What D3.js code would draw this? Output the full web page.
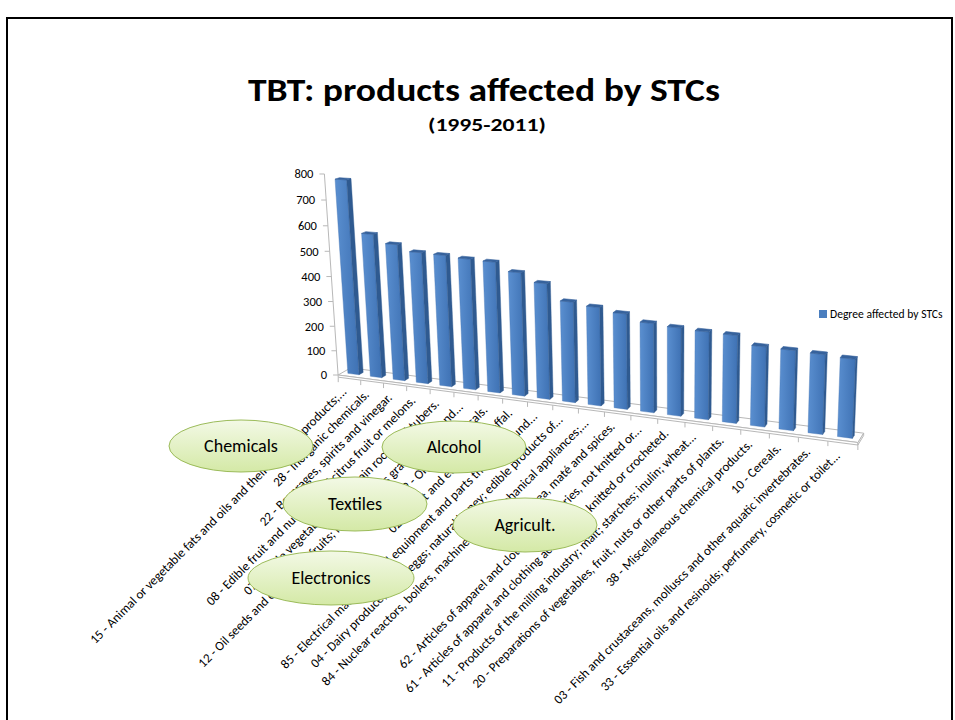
<!DOCTYPE html>
<html><head><meta charset="utf-8">
<script src="https://cdn.jsdelivr.net/npm/d3@7"></script>
<style>html,body{margin:0;padding:0;background:#fff;} svg{display:block;}</style>
</head><body><svg id="chart" width="955" height="720"></svg>
<script>
// ---------- data ----------
const categories = [
  "15 - Animal or vegetable fats and oils and their cleavage products;...",
  "28 - Inorganic chemicals.",
  "22 - Beverages, spirits and vinegar.",
  "08 - Edible fruit and nuts; peel of citrus fruit or melons.",
  "07 - Edible vegetables and certain roots and tubers.",
  "12 - Oil seeds and oleaginous fruits; miscellaneous grains, seeds and...",
  "29 - Organic chemicals.",
  "02 - Meat and edible meat offal.",
  "85 - Electrical machinery and equipment and parts thereof; sound...",
  "04 - Dairy produce; birds' eggs; natural honey; edible products of...",
  "84 - Nuclear reactors, boilers, machinery and mechanical appliances;...",
  "09 - Coffee, tea, maté and spices.",
  "62 - Articles of apparel and clothing accessories, not knitted or...",
  "61 - Articles of apparel and clothing accessories, knitted or crocheted.",
  "11 - Products of the milling industry; malt; starches; inulin; wheat...",
  "20 - Preparations of vegetables, fruit, nuts or other parts of plants.",
  "38 - Miscellaneous chemical products.",
  "10 - Cereals.",
  "03 - Fish and crustaceans, molluscs and other aquatic invertebrates.",
  "33 - Essential oils and resinoids; perfumery, cosmetic or toilet..."
];
const values = [776, 573, 541, 518, 516, 510, 507, 476, 444, 384, 374, 360, 335, 329, 325, 323, 293, 291, 288, 283];
const yTicks = [0, 100, 200, 300, 400, 500, 600, 700, 800];
const seriesName = "Degree affected by STCs";
const titleText = "TBT: products affected by STCs";
const subtitleText = "(1995-2011)";
const groupLabels = ["Chemicals", "Alcohol", "Textiles", "Agricult.", "Electronics"];

// ---------- 3D projection (perspective camera) ----------
const F = 1404, CX = 580, CY = 300;
const RX = [0.9212, 0.0910, -0.3782];
const RY = [-0.01734, -0.9617, -0.2735];
const RZ = [0.3886, -0.2585, 0.8843];
const O = [-9.27, 2.874, 53.8];
function proj(X, Y, Z) {
  const p = [0, 1, 2].map(k => O[k] + X * RX[k] + Y * RY[k] + Z * RZ[k]);
  return [CX + F * p[0] / p[2], CY + F * p[1] / p[2]];
}
const poly = pts => pts.map(p => proj(p[0], p[1], p[2]).join(",")).join(" ");

const FONT = "Carlito, Calibri, Lato, 'Open Sans', sans-serif";
const svg = d3.select("#chart").style("font-family", FONT);
const defs = svg.append("defs");

const nCat = categories.length;
const xBand = d3.scaleBand().domain(categories).range([0, nCat]).paddingInner(0.5).paddingOuter(0.25);
const yVal = d3.scaleLinear().domain([0, 800]).range([0, 7.81]);
const FLOOR_D = 0.9, BZ0 = 0.3, BZ1 = 0.6, FLOOR_T = yVal(9);

const gFront = defs.append("linearGradient").attr("id", "gFront").attr("x1", 0).attr("x2", 1).attr("y1", 0).attr("y2", 0);
gFront.append("stop").attr("offset", 0).attr("stop-color", "#5a8fd0");
gFront.append("stop").attr("offset", 1).attr("stop-color", "#3f72b4");
const gOval = defs.append("linearGradient").attr("id", "gOval").attr("x1", 0).attr("x2", 0).attr("y1", 0).attr("y2", 1);
gOval.append("stop").attr("offset", 0).attr("stop-color", "#f3f9e6");
gOval.append("stop").attr("offset", 1).attr("stop-color", "#d4e9a6");
defs.append("clipPath").attr("id", "frameClip").append("rect").attr("x", 0).attr("y", 0).attr("width", 952).attr("height", 720);

const root = svg.append("g").attr("clip-path", "url(#frameClip)");

// floor
const gridCol = "#b8b8b8";
root.append("polygon").attr("points", poly([[0,0,0],[nCat,0,0],[nCat,0,FLOOR_D],[0,0,FLOOR_D]]))
  .attr("fill", "#ffffff").attr("stroke", gridCol).attr("stroke-width", 1);
root.append("polygon").attr("points", poly([[0,0,0],[nCat,0,0],[nCat,-FLOOR_T,0],[0,-FLOOR_T,0]]))
  .attr("fill", "#ffffff").attr("stroke", gridCol).attr("stroke-width", 1);
root.append("polygon").attr("points", poly([[nCat,0,0],[nCat,0,FLOOR_D],[nCat,-FLOOR_T,FLOOR_D],[nCat,-FLOOR_T,0]]))
  .attr("fill", "#ffffff").attr("stroke", gridCol).attr("stroke-width", 1);
// category tick marks
root.append("g").selectAll("line").data(d3.range(nCat + 1)).join("line")
  .each(function (k) {
    const a = proj(k, -FLOOR_T, 0);
    d3.select(this).attr("x1", a[0]).attr("y1", a[1]).attr("x2", a[0]).attr("y2", a[1] + 5);
  })
  .attr("stroke", gridCol).attr("stroke-width", 1);

// value axis
const axTop = proj(0, yVal(800), 0), axBot = proj(0, 0, 0);
root.append("line").attr("x1", axBot[0]).attr("y1", axBot[1]).attr("x2", axTop[0]).attr("y2", axTop[1])
  .attr("stroke", gridCol).attr("stroke-width", 1);
const yAxisG = root.append("g");
yTicks.forEach(t => {
  const p = proj(0, yVal(t), 0);
  yAxisG.append("line").attr("x1", p[0] - 5).attr("y1", p[1]).attr("x2", p[0]).attr("y2", p[1])
    .attr("stroke", gridCol).attr("stroke-width", 1);
  yAxisG.append("text").attr("x", p[0] - 11).attr("y", p[1]).attr("dy", "0.35em")
    .attr("text-anchor", "end").attr("font-size", 12.5).attr("fill", "#000").text(t);
});

// bars (far/left to near/right)
const barsG = root.append("g");
categories.forEach((c, i) => {
  const x0 = xBand(c), x1 = x0 + xBand.bandwidth(), h = yVal(values[i]);
  const g = barsG.append("g");
  g.append("polygon").attr("points", poly([[x0,0,BZ0],[x1,0,BZ0],[x1,h,BZ0],[x0,h,BZ0]]))
    .attr("fill", "url(#gFront)").attr("stroke", "#4677b5").attr("stroke-width", 0.4);
  g.append("polygon").attr("points", poly([[x1,0,BZ0],[x1,0,BZ1],[x1,h,BZ1],[x1,h,BZ0]]))
    .attr("fill", "#2f5a90").attr("stroke", "#2f5a90").attr("stroke-width", 0.4);
  g.append("polygon").attr("points", poly([[x0,h,BZ0],[x1,h,BZ0],[x1,h,BZ1],[x0,h,BZ1]]))
    .attr("fill", "#36629c").attr("stroke", "#36629c").attr("stroke-width", 0.6);
});

// category labels
const labG = root.append("g");
categories.forEach((c, i) => {
  const p = proj(xBand(c) + xBand.bandwidth() / 2, 0, 0);
  const ax = p[0] - 2, ay = p[1] + 16;
  labG.append("text").attr("transform", `translate(${ax},${ay}) rotate(-45)`)
    .attr("text-anchor", "end").attr("font-size", 13).attr("fill", "#000").text(c);
});

// group ovals
const ovalLayout = [
  {cx: 241, cy: 446, rx: 72, ry: 26},
  {cx: 454, cy: 447, rx: 72, ry: 26},
  {cx: 355, cy: 504, rx: 72, ry: 27},
  {cx: 525, cy: 525, rx: 72, ry: 27},
  {cx: 331, cy: 578, rx: 83, ry: 27}
];
const ovG = root.append("g");
groupLabels.forEach((name, i) => {
  const o = ovalLayout[i];
  ovG.append("ellipse").attr("cx", o.cx).attr("cy", o.cy).attr("rx", o.rx).attr("ry", o.ry)
    .attr("fill", "url(#gOval)").attr("stroke", "#9bbb59").attr("stroke-width", 1);
  ovG.append("text").attr("x", o.cx).attr("y", o.cy).attr("dy", "0.35em").attr("text-anchor", "middle")
    .attr("font-size", 18).attr("fill", "#000").text(name);
});

// legend (kept fully inside the frame)
const lg = root.append("g");
lg.append("rect").attr("x", 819).attr("y", 310).attr("width", 8).attr("height", 8).attr("fill", "#4a7ebf");
lg.append("text").attr("x", 830).attr("y", 314).attr("dy", "0.35em").attr("font-size", 11.6).attr("fill", "#000").text(seriesName);

// titles
root.append("text").attr("x", 484).attr("y", 101).attr("text-anchor", "middle")
  .attr("font-size", 32).attr("font-weight", "bold").attr("fill", "#000")
  .attr("textLength", 472).attr("lengthAdjust", "spacingAndGlyphs").text(titleText);
root.append("text").attr("x", 487).attr("y", 131).attr("text-anchor", "middle")
  .attr("font-size", 18).attr("font-weight", "bold").attr("fill", "#000")
  .attr("textLength", 118).attr("lengthAdjust", "spacingAndGlyphs").text(subtitleText);

// slide frame
svg.append("rect").attr("x", 7).attr("y", 18).attr("width", 945).attr("height", 720)
  .attr("fill", "none").attr("stroke", "#000").attr("stroke-width", 2);
</script></body></html>
